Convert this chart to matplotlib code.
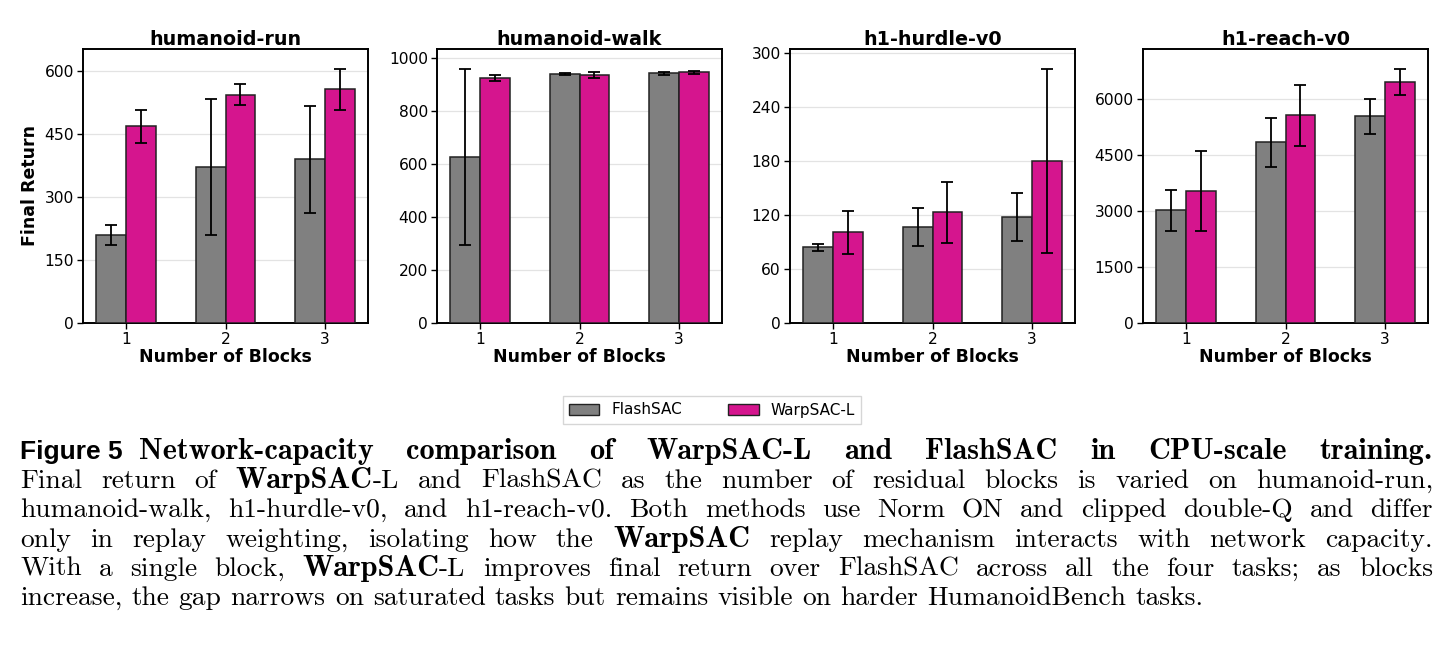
import numpy as np
import matplotlib.pyplot as plt
from matplotlib.patches import Patch

# data (mean, std) per task, for 1/2/3 residual blocks
tasks = ["humanoid-run", "humanoid-walk", "h1-hurdle-v0", "h1-reach-v0"]
blocks = [1, 2, 3]

flash_mean = {
    "humanoid-run": [210, 371, 389],
    "humanoid-walk": [627, 940, 943],
    "h1-hurdle-v0": [84, 107, 118],
    "h1-reach-v0": [3015, 4835, 5530],
}
flash_std = {
    "humanoid-run": [24, 162, 127],
    "humanoid-walk": [331, 5, 6],
    "h1-hurdle-v0": [4, 21, 27],
    "h1-reach-v0": [545, 656, 473],
}
warp_mean = {
    "humanoid-run": [468, 543, 555],
    "humanoid-walk": [924, 937, 947],
    "h1-hurdle-v0": [101, 123, 180],
    "h1-reach-v0": [3527, 5555, 6437],
}
warp_std = {
    "humanoid-run": [39, 25, 48],
    "humanoid-walk": [12, 10, 6],
    "h1-hurdle-v0": [24, 34, 102],
    "h1-reach-v0": [1062, 822, 348],
}
tick_step = {"humanoid-run": 150, "humanoid-walk": 200,
             "h1-hurdle-v0": 60, "h1-reach-v0": 1500}

FLASH_COLOR = "#808080"
WARP_COLOR = "#d5158e"

W, H = 1453, 660
fig = plt.figure(figsize=(W / 100, H / 100), dpi=100)

lefts = [83, 437, 790, 1143]
ax_w, ax_top, ax_bot = 285, 49, 323
width = 0.3
x = np.array(blocks)

for i, task in enumerate(tasks):
    ax = fig.add_axes([lefts[i] / W, 1 - ax_bot / H, ax_w / W, (ax_bot - ax_top) / H])
    fm, fs = np.array(flash_mean[task]), np.array(flash_std[task])
    wm, ws = np.array(warp_mean[task]), np.array(warp_std[task])
    err_kw = dict(ecolor="black", elinewidth=1.3, capsize=4, capthick=1.3)
    ax.bar(x - width / 2, fm, width, yerr=fs, color=FLASH_COLOR,
           edgecolor="#222222", linewidth=1.1, error_kw=err_kw, zorder=3)
    ax.bar(x + width / 2, wm, width, yerr=ws, color=WARP_COLOR,
           edgecolor="#222222", linewidth=1.1, error_kw=err_kw, zorder=3)

    top = max((fm + fs).max(), (wm + ws).max()) * 1.08
    ax.set_ylim(0, top)
    ax.yaxis.set_major_locator(plt.MultipleLocator(tick_step[task]))
    ax.set_xticks(blocks)
    ax.grid(axis="y", color="#e3e3e3", linewidth=0.9, zorder=0)
    ax.set_axisbelow(True)
    for s in ax.spines.values():
        s.set_linewidth(1.4)
        s.set_color("black")
    ax.tick_params(labelsize=11.2, length=4, width=1, pad=2.5)
    ax.set_title(task, fontsize=13.8, fontweight="bold", pad=2)
    ax.set_xlabel("Number of Blocks", fontsize=12.5, fontweight="bold", labelpad=1)
    if i == 0:
        ax.set_ylabel("Final Return", fontsize=12.5, fontweight="bold", labelpad=4)

handles = [Patch(facecolor=FLASH_COLOR, edgecolor="#222222", label="FlashSAC"),
           Patch(facecolor=WARP_COLOR, edgecolor="#222222", label="WarpSAC-L")]
fig.legend(handles=handles, loc="center", bbox_to_anchor=(712 / W, 1 - 410 / H),
           ncol=2, fontsize=11, frameon=True, fancybox=False, edgecolor="#cccccc",
           columnspacing=3.0, handlelength=2.0)

# caption: **...** marks bold; every line but the last is justified
caption = [
    "**Network-capacity comparison of WarpSAC-L and FlashSAC in CPU-scale training.**",
    "Final return of **WarpSAC**-L and FlashSAC as the number of residual blocks is varied on humanoid-run,",
    "humanoid-walk, h1-hurdle-v0, and h1-reach-v0. Both methods use Norm ON and clipped double-Q and differ",
    "only in replay weighting, isolating how the **WarpSAC** replay mechanism interacts with network capacity.",
    "With a single block, **WarpSAC**-L improves final return over FlashSAC across all the four tasks; as blocks",
    "increase, the gap narrows on saturated tasks but remains visible on harder HumanoidBench tasks.",
]
baselines = [459, 488, 517, 547, 576, 605]
x_left, x_right = 20, 1433
cap_size = 19.8
bold_size = cap_size * 1.1

renderer = fig.canvas.get_renderer()
for li, line in enumerate(caption):
    y = 1 - baselines[li] / H
    start = x_left
    if li == 0:
        t = fig.text(x_left / W, y, "Figure 5", fontsize=19, fontweight="bold",
                     family="Liberation Sans", va="baseline")
        start = x_left + t.get_window_extent(renderer).width + 16
        line = line.strip("*")
        words = [[(w, True)] for w in line.split(" ")]
    else:
        words = []
        bold = False
        for w in line.split(" "):
            parts = w.split("**")
            segs = []
            for k, p in enumerate(parts):
                if k > 0:
                    bold = not bold
                if p:
                    segs.append((p, bold))
            words.append(segs)

    placed = []
    for segs in words:
        objs = []
        for txt, b in segs:
            t = fig.text(0, y, txt, va="baseline",
                         fontsize=bold_size if b else cap_size,
                         family="cmb10" if b else "cmr10")
            objs.append((t, t.get_window_extent(renderer).width))
        placed.append(objs)
    word_w = [sum(w for _, w in objs) for objs in placed]
    n = len(placed)
    if li == len(caption) - 1:
        gap = cap_size * 0.333 * 100 / 72
    else:
        gap = (x_right - start - sum(word_w)) / (n - 1)
    pos = start
    for objs, ww in zip(placed, word_w):
        p = pos
        for t, w in objs:
            t.set_x(p / W)
            p += w
        pos += ww + gap

fig.savefig("out.png", dpi=100)
